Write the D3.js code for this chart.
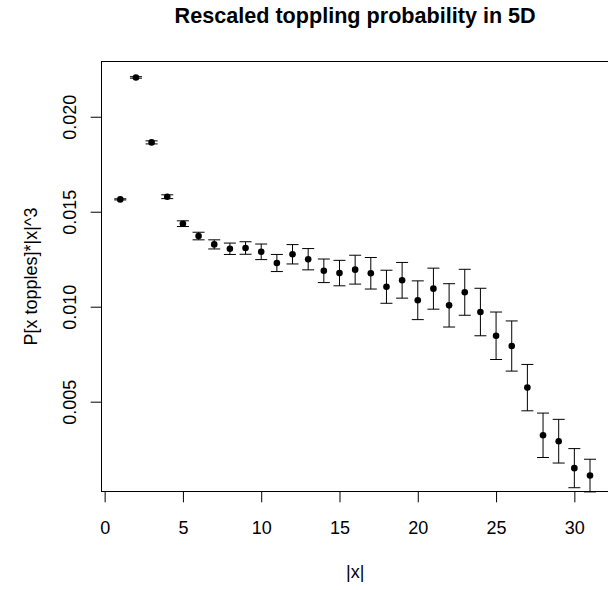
<!DOCTYPE html>
<html>
<head>
<meta charset="utf-8">
<script src="https://cdn.jsdelivr.net/npm/d3@7"></script>
<style>
  html, body { margin: 0; padding: 0; background: #fff; }
  svg { display: block; font-family: "Liberation Sans", Arial, Helvetica, sans-serif; }
</style>
</head>
<body>
<svg id="chart" width="608" height="590"></svg>
<script>
// Distance |x| from the origin
const distances = [1, 2, 3, 4, 5, 6, 7, 8, 9, 10, 11, 12, 13, 14, 15, 16,
                   17, 18, 19, 20, 21, 22, 23, 24, 25, 26, 27, 28, 29, 30, 31];
// Rescaled toppling probability P[x topples]*|x|^3
const probabilities = [0.01565, 0.02207, 0.01865, 0.01579, 0.01437, 0.01372, 0.01328, 0.01305,
                       0.01309, 0.01289, 0.01230, 0.01276, 0.01250, 0.01189, 0.01177, 0.01195,
                       0.01176, 0.01105, 0.01139, 0.01034, 0.01095, 0.01007, 0.01076, 0.00972,
                       0.00847, 0.00793, 0.00574, 0.00323, 0.00292, 0.00150, 0.00111];
// Half-widths of the error bars
const errors = [0.00003, 0.00004, 0.00008, 0.00010, 0.00015, 0.00020, 0.00024, 0.00030,
                0.00033, 0.00041, 0.00045, 0.00051, 0.00056, 0.00062, 0.00067, 0.00076,
                0.00083, 0.00087, 0.00094, 0.00102, 0.00108, 0.00114, 0.00121, 0.00125,
                0.00125, 0.00132, 0.00122, 0.00117, 0.00115, 0.00103, 0.00086];
const xTicks = [0, 5, 10, 15, 20, 25, 30];
const yTicks = [0.005, 0.010, 0.015, 0.020];

const title = "Rescaled toppling probability in 5D";
const xLabel = "|x|";
const yLabel = "P[x topples]*|x|^3";

const svg = d3.select("#chart");
const plot = { left: 101.5, right: 608.8, top: 61.5, bottom: 491.5 };
const fontSize = 18;
const lineH = fontSize * 1.2;

// Axis limits padded by 4% of the data range on each side
function padded(ext) {
  const d = (ext[1] - ext[0]) * 0.04;
  return [ext[0] - d, ext[1] + d];
}
const x = d3.scaleLinear().domain(padded(d3.extent(distances))).range([plot.left, plot.right]);
const y = d3.scaleLinear().domain(padded(d3.extent(probabilities))).range([plot.bottom, plot.top]);

const data = distances.map((d, i) => ({ x: d, y: probabilities[i], e: errors[i] }));

// Bottom axis
const gx = svg.append("g")
  .attr("transform", `translate(0,${plot.bottom})`)
  .call(d3.axisBottom(x).tickValues(xTicks).tickFormat(d3.format("d"))
        .tickSize(lineH / 2).tickPadding(lineH * 2 - lineH / 2 - fontSize * 0.71 - 1));
gx.select(".domain").remove();
gx.selectAll("line").attr("stroke", "#000");
gx.selectAll("text").attr("font-size", fontSize).attr("fill", "#000")
  .attr("font-family", null);

// Left axis with labels written parallel to the axis
const gy = svg.append("g")
  .attr("transform", `translate(${plot.left},0)`)
  .call(d3.axisLeft(y).tickValues(yTicks).tickFormat(d3.format(".3f")).tickSize(lineH / 2));
gy.select(".domain").remove();
gy.selectAll("line").attr("stroke", "#000");
gy.selectAll("text")
  .attr("font-size", fontSize).attr("fill", "#000").attr("font-family", null)
  .attr("text-anchor", "middle")
  .attr("transform", "rotate(-90)")
  .attr("x", 0).attr("dy", 0)
  .attr("y", -(lineH + 3.5));

// Plot frame
svg.append("rect")
  .attr("x", plot.left).attr("y", plot.top)
  .attr("width", plot.right - plot.left + 2).attr("height", plot.bottom - plot.top)
  .attr("fill", "none").attr("stroke", "#000").attr("stroke-width", 1);

// Error bars
const cap = 6;
const bars = svg.append("g").attr("stroke", "#000").attr("stroke-width", 1).attr("fill", "none");
bars.selectAll("line.v").data(data).join("line").attr("class", "v")
  .attr("x1", d => x(d.x)).attr("x2", d => x(d.x))
  .attr("y1", d => y(d.y - d.e)).attr("y2", d => y(d.y + d.e));
bars.selectAll("line.lo").data(data).join("line").attr("class", "lo")
  .attr("x1", d => x(d.x) - cap).attr("x2", d => x(d.x) + cap)
  .attr("y1", d => y(d.y - d.e)).attr("y2", d => y(d.y - d.e));
bars.selectAll("line.hi").data(data).join("line").attr("class", "hi")
  .attr("x1", d => x(d.x) - cap).attr("x2", d => x(d.x) + cap)
  .attr("y1", d => y(d.y + d.e)).attr("y2", d => y(d.y + d.e));

// Points
svg.append("g").selectAll("circle").data(data).join("circle")
  .attr("cx", d => x(d.x)).attr("cy", d => y(d.y)).attr("r", 3.3).attr("fill", "#000");

// Titles
const midX = (plot.left + plot.right) / 2;
const midY = (plot.top + plot.bottom) / 2;
svg.append("text").attr("x", midX).attr("y", 23)
  .attr("text-anchor", "middle").attr("font-size", fontSize * 1.2).attr("font-weight", "bold")
  .text(title);
svg.append("text").attr("x", midX).attr("y", plot.bottom + lineH * 4)
  .attr("text-anchor", "middle").attr("font-size", fontSize).text(xLabel);
svg.append("text").attr("transform", `translate(${plot.left - lineH * 3},${midY}) rotate(-90)`)
  .attr("text-anchor", "middle").attr("font-size", fontSize).text(yLabel);
</script>
</body>
</html>
